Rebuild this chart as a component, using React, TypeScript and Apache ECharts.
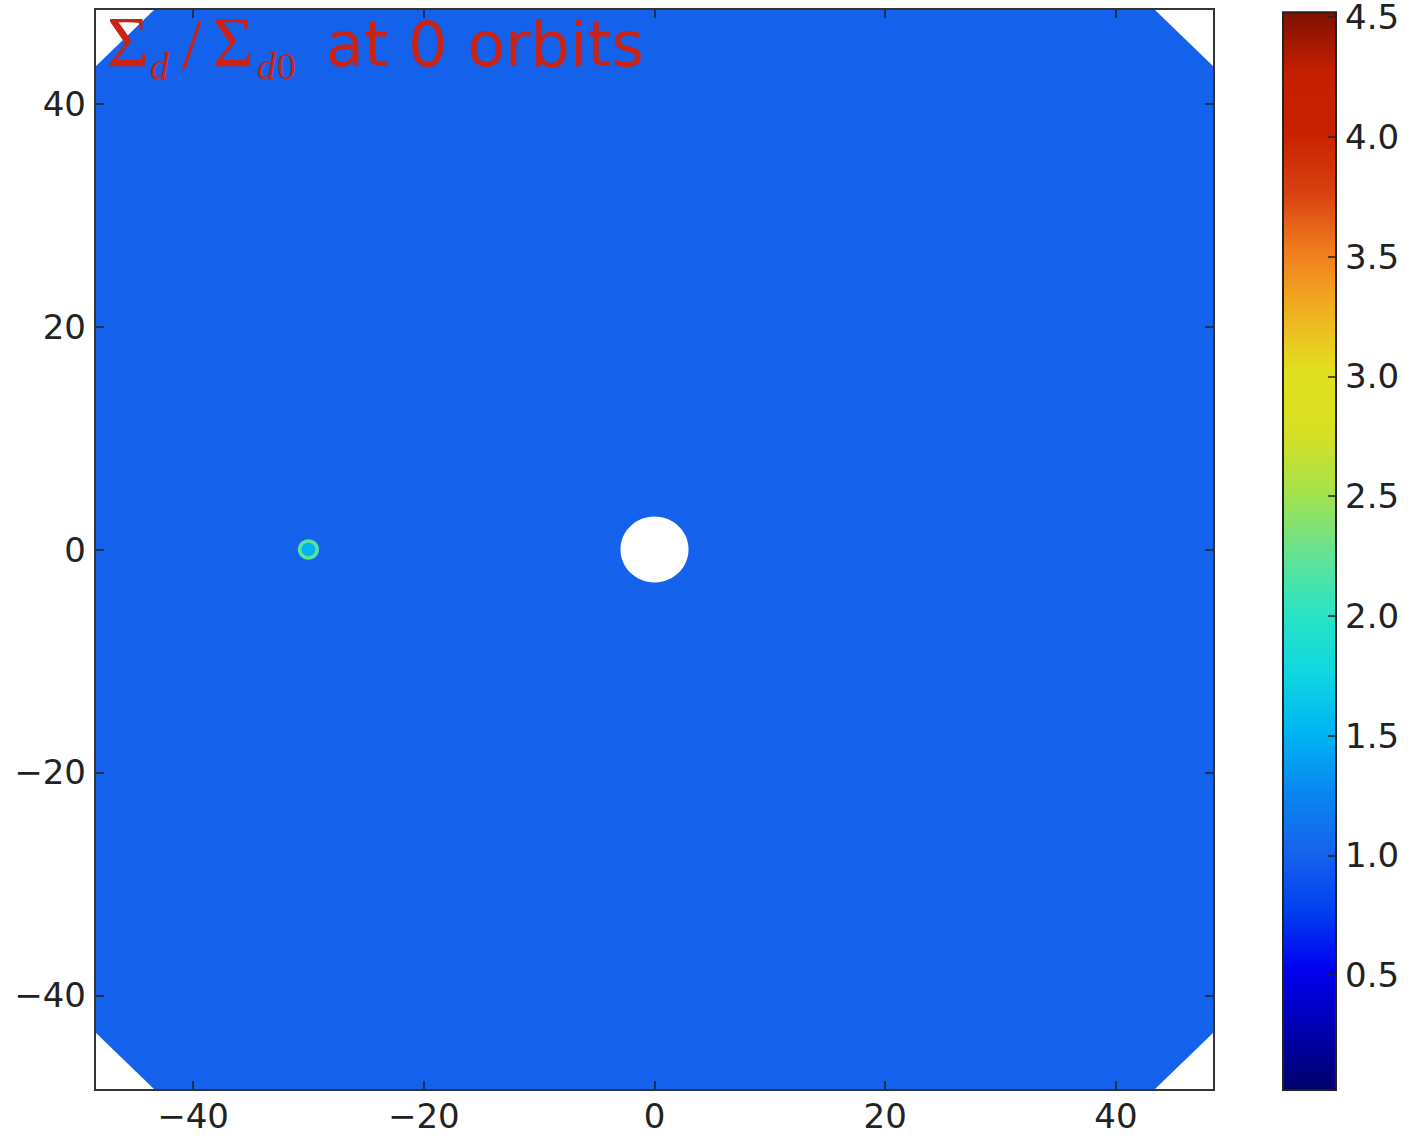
import React, { useEffect, useRef } from "react";
import * as echarts from "echarts";

// ---- data ----
const axisRange = [-48.5, 48.5];
const xTickValues = [-40, -20, 0, 20, 40];
const yTickValues = [-40, -20, 0, 20, 40];
const colorRange = [0.02, 4.52];
const colorbarTicks = [0.5, 1.0, 1.5, 2.0, 2.5, 3.0, 3.5, 4.0, 4.5];
// colour map, evenly spaced from colorRange[0] to colorRange[1]
const colormap = [
  "#00006a", "#0000b0", "#0000f0", "#0040f0", "#1664ec",
  "#0888f0", "#00b6f2", "#10d8e0", "#2ce4c4", "#68e290",
  "#a6e24a", "#d8e024", "#e2e01e", "#f0b020", "#f07e1e",
  "#d84010", "#c82200", "#c42000", "#801000",
];
// computational domain outline (x, y)
const domainOutline = [
  [-43.3, 48.5], [43.3, 48.5], [48.5, 43.3], [48.5, -43.3],
  [43.3, -48.5], [-43.3, -48.5], [-48.5, -43.3], [-48.5, 43.3],
];
// [x, y, radius, value]
const domainField = [[0, 0, 0, 1.0]];
const innerHole = [[0, 0, 2.95, 0]];
const planetRings = [
  [-30, 0, 0.92, 2.2],
  [-30, 0, 0.6, 1.5],
];

const tickFont = { fontFamily: "DejaVu Sans", fontSize: 34, color: "#222" };
const fmt = (v: number) => (v < 0 ? "\u2212" + Math.abs(v) : String(v));
const titleColor = "#cc2211";

export default function App() {
  const ref = useRef<HTMLDivElement>(null);
  useEffect(() => {
    document.body.style.margin = "0";
    const chart = echarts.init(ref.current!, null, { renderer: "svg" });
    const axisCommon = (pos: string, labels: boolean, ticks: number[], gridIndex = 0) => ({
      type: "value",
      gridIndex,
      position: pos,
      min: axisRange[0],
      max: axisRange[1],
      z: 10,
      axisLine: { show: false, onZero: false },
      splitLine: { show: false },
      axisTick: {
        show: true,
        inside: true,
        length: 9,
        customValues: ticks,
        lineStyle: { color: "#222", width: 1.5 },
      },
      axisLabel: labels
        ? { show: true, customValues: ticks, formatter: fmt, margin: 9, ...tickFont }
        : { show: false },
    });
    const stops = colormap.map((c, i) => ({ offset: i / (colormap.length - 1), color: c }));
    const t = (x: number, y: number, text: string, font: string) => ({
      type: "text",
      z: 100,
      x,
      y,
      style: { text, font, fill: titleColor, verticalAlign: "middle" },
    });
    chart.setOption({
      animation: false,
      backgroundColor: "#fff",
      grid: [
        { left: 95, top: 9, width: 1119, height: 1081, show: false },
        { left: 1283, top: 9, width: 53, height: 1081, show: false },
      ],
      xAxis: [
        axisCommon("bottom", true, xTickValues),
        axisCommon("top", false, xTickValues),
        { type: "value", gridIndex: 1, min: 0, max: 1, show: false },
      ],
      yAxis: [
        axisCommon("left", true, yTickValues),
        axisCommon("right", false, yTickValues),
        {
          type: "value",
          gridIndex: 1,
          position: "right",
          min: colorRange[0],
          max: colorRange[1],
          z: 10,
          axisLine: { show: false, onZero: false },
          splitLine: { show: false },
          axisTick: {
            show: true,
            inside: true,
            length: 8,
            customValues: colorbarTicks,
            lineStyle: { color: "#222", width: 1.5 },
          },
          axisLabel: {
            show: true,
            customValues: colorbarTicks,
            formatter: (v: number) => v.toFixed(1),
            margin: 9,
            ...tickFont,
          },
        },
      ],
      visualMap: {
        type: "continuous",
        show: false,
        min: colorRange[0],
        max: colorRange[1],
        dimension: 3,
        seriesIndex: [0, 2],
        inRange: { color: colormap },
      },
      series: [
        {
          type: "custom",
          xAxisIndex: 0,
          yAxisIndex: 0,
          data: domainField,
          encode: { x: 0, y: 1 },
          renderItem: (params: any, api: any) => ({
            type: "polygon",
            shape: { points: domainOutline.map((p) => api.coord(p)) },
            style: { fill: api.visual("color") },
          }),
        },
        {
          type: "custom",
          xAxisIndex: 0,
          yAxisIndex: 0,
          data: innerHole,
          encode: { x: 0, y: 1 },
          renderItem: (params: any, api: any) => {
            const c = api.coord([api.value(0), api.value(1)]);
            const s = api.size([api.value(2), api.value(2)]);
            return {
              type: "ellipse",
              shape: { cx: c[0], cy: c[1], rx: s[0], ry: s[1] },
              style: { fill: "#ffffff" },
            };
          },
        },
        {
          type: "custom",
          xAxisIndex: 0,
          yAxisIndex: 0,
          data: planetRings,
          encode: { x: 0, y: 1 },
          renderItem: (params: any, api: any) => {
            const c = api.coord([api.value(0), api.value(1)]);
            const s = api.size([api.value(2), api.value(2)]);
            return {
              type: "ellipse",
              shape: { cx: c[0], cy: c[1], rx: s[0], ry: s[1] },
              style: { fill: api.visual("color") },
            };
          },
        },
        {
          type: "custom",
          xAxisIndex: 2,
          yAxisIndex: 2,
          data: [[0, colorRange[0], 1, colorRange[1]]],
          encode: { x: [0, 2], y: [1, 3] },
          renderItem: (params: any, api: any) => {
            const p0 = api.coord([api.value(0), api.value(1)]);
            const p1 = api.coord([api.value(2), api.value(3)]);
            return {
              type: "rect",
              shape: { x: p0[0], y: p1[1], width: p1[0] - p0[0], height: p0[1] - p1[1] },
              style: {
                fill: new echarts.graphic.LinearGradient(0, 1, 0, 0, stops),
                stroke: "#222",
                lineWidth: 2,
              },
            };
          },
        },
      ],
      graphic: [
        {
          type: "rect",
          z: 100,
          shape: { x: 95, y: 9, width: 1119, height: 1081 },
          style: { fill: "none", stroke: "#333", lineWidth: 2 },
        },
        t(107, 42, "\u03a3", "72px 'Liberation Serif'"),
        t(150, 66, "d", "italic 38px 'Liberation Serif'"),
        t(182, 44, "/", "70px 'Liberation Serif'"),
        t(212, 42, "\u03a3", "72px 'Liberation Serif'"),
        t(257, 66, "d", "italic 38px 'Liberation Serif'"),
        t(277, 66, "0", "38px 'Liberation Serif'"),
        t(326, 44, "at 0 orbits", "62px 'DejaVu Sans'"),
      ],
    });
    return () => chart.dispose();
  }, []);
  return <div ref={ref} style={{ width: 1420, height: 1138 }} />;
}
